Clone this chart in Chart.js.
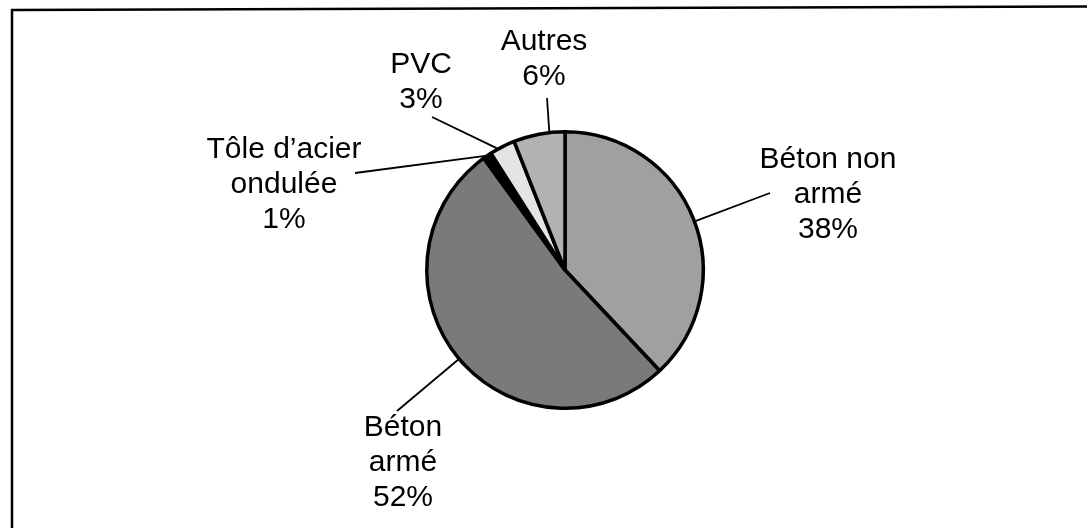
<!DOCTYPE html>
<html>
<head>
<meta charset="utf-8">
<script src="https://cdn.jsdelivr.net/npm/chart.js@4.4.0/dist/chart.umd.min.js"></script>
<style>
  html, body { margin: 0; padding: 0; background: #fff; }
  #wrap { position: relative; width: 1087px; height: 528px; }
</style>
</head>
<body>
<div id="wrap"><canvas id="myChart" width="1087" height="528"></canvas></div>
<script>
// donnees du graphique
var categories = ['Béton non armé', 'Béton armé', 'Tôle d\u2019acier ondulée', 'PVC', 'Autres'];
var pourcentages = [38, 52, 1, 3, 6];
// lignes du texte de chaque etiquette
var etiquettes = [
    ['Béton non', 'armé', '38%'],
    ['Béton', 'armé', '52%'],
    ['Tôle d\u2019acier', 'ondulée', '1%'],
    ['PVC', '3%'],
    ['Autres', '6%']
];
var couleurs = ['#a0a0a0', '#7a7a7a', '#000000', '#e4e4e4', '#b2b2b2'];

// position des etiquettes par rapport au centre du camembert
var placement = [
    {dx: 263, dy: -102, lx: 205, ly: -77},
    {dx: -162, dy: 166, lx: -168, ly: 141},
    {dx: -281, dy: -112, lx: -210, ly: -97},
    {dx: -144, dy: -197, lx: -133, ly: -153},
    {dx: -21, dy: -220, lx: -18, ly: -172}
];

const etiquettesPlugin = {
    id: 'etiquettes',
    beforeDraw(chart) {
        const ctx = chart.ctx;
        ctx.save();
        ctx.strokeStyle = '#000';
        ctx.lineWidth = 2.5;
        ctx.beginPath();
        ctx.moveTo(11, 10);
        ctx.lineTo(1087, 6.5);
        ctx.moveTo(12, 9);
        ctx.lineTo(12, 528);
        ctx.stroke();
        ctx.restore();
    },
    afterDraw(chart) {
        const ctx = chart.ctx;
        const meta = chart.getDatasetMeta(0);
        ctx.save();
        ctx.font = '30px "Liberation Sans", Arial, sans-serif';
        ctx.fillStyle = '#000';
        ctx.textAlign = 'center';
        ctx.textBaseline = 'alphabetic';
        meta.data.forEach((arc, i) => {
            const p = placement[i];
            const cx = arc.x, cy = arc.y;
            const r = arc.outerRadius + 1;
            // point de l'arc le plus proche du debut du trait
            let a = Math.atan2(p.ly, p.lx);
            const span = arc.endAngle - arc.startAngle;
            const lo = arc.startAngle + span * 0.3;
            const hi = arc.endAngle - span * 0.3;
            while (a < lo - Math.PI) a += 2 * Math.PI;
            while (a > hi + Math.PI) a -= 2 * Math.PI;
            a = Math.min(Math.max(a, lo), hi);
            ctx.strokeStyle = '#000';
            ctx.lineWidth = 1.8;
            ctx.beginPath();
            ctx.moveTo(cx + p.lx, cy + p.ly);
            ctx.lineTo(cx + r * Math.cos(a), cy + r * Math.sin(a));
            ctx.stroke();
            etiquettes[i].forEach((ligne, k) => {
                ctx.fillText(ligne, cx + p.dx, cy + p.dy + k * 35);
            });
        });
        ctx.restore();
    }
};

function setGrafico(){
    const ctx = document.getElementById('myChart').getContext('2d');
    const myChart = new Chart(ctx, {
        type: 'pie',
        data: {
            labels: categories,
            datasets: [{
                data: pourcentages,
                backgroundColor: couleurs,
                borderColor: '#000',
                borderWidth: 3.5
            }]
        },
        options: {
            responsive: false,
            animation: false,
            layout: {
                padding: {left: 400, right: 357, top: 130, bottom: 118}
            },
            plugins: {
                legend: {display: false},
                tooltip: {enabled: false}
            }
        },
        plugins: [etiquettesPlugin]
    });
}
setGrafico();
</script>
</body>
</html>
